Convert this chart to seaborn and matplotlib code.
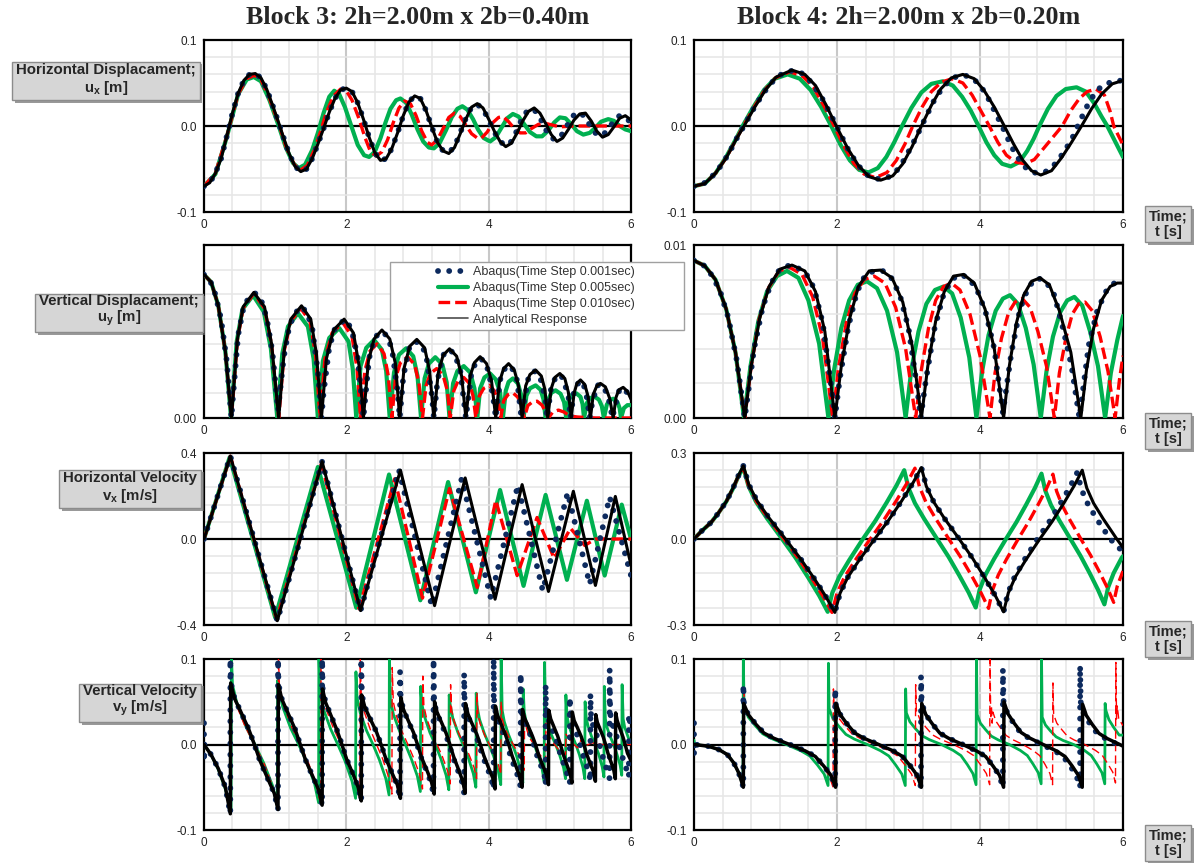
import numpy as np
import pandas as pd
import matplotlib
matplotlib.use("Agg")
import matplotlib.pyplot as plt
import matplotlib.patheffects as pe
from matplotlib.lines import Line2D
from matplotlib.legend_handler import HandlerLine2D
import seaborn as sns

# ---------------------------------------------------------------- data
# every series is a list of (time [s], value)
# Block 3 - horizontal displacement ux [m]
B3_UX_AN = [(0.00,-0.070),(0.08,-0.066),(0.16,-0.055),(0.24,-0.038),(0.32,-0.012),(0.40,0.015),(0.48,0.038),(0.56,0.053),(0.64,0.060),(0.72,0.061),(0.80,0.056),(0.88,0.043),(0.96,0.025),(1.04,0.006),(1.12,-0.014),(1.20,-0.033),(1.28,-0.047),(1.36,-0.053),(1.44,-0.050),(1.52,-0.038),(1.60,-0.021),(1.68,-0.003),(1.76,0.016),(1.84,0.032),(1.92,0.042),(2.00,0.044),(2.08,0.040),(2.16,0.027),(2.24,0.008),(2.32,-0.013),(2.40,-0.031),(2.48,-0.040),(2.56,-0.038),(2.64,-0.026),(2.72,-0.008),(2.80,0.012),(2.88,0.028),(2.96,0.035),(3.04,0.032),(3.12,0.018),(3.20,-0.001),(3.28,-0.019),(3.36,-0.029),(3.44,-0.032),(3.52,-0.025),(3.60,-0.009),(3.68,0.008),(3.76,0.022),(3.84,0.026),(3.92,0.021),(4.00,0.008),(4.08,-0.006),(4.16,-0.018),(4.24,-0.024),(4.32,-0.020),(4.40,-0.008),(4.48,0.006),(4.56,0.017),(4.64,0.021),(4.72,0.015),(4.80,0.003),(4.88,-0.010),(4.96,-0.018),(5.04,-0.014),(5.12,-0.004),(5.20,0.007),(5.28,0.014),(5.36,0.015),(5.44,0.006),(5.52,-0.006),(5.60,-0.013),(5.68,-0.010),(5.76,-0.001),(5.84,0.009),(5.92,0.012),(6.00,0.007)]
B3_UX_D1 = [(0.00,-0.070),(0.08,-0.066),(0.16,-0.055),(0.24,-0.038),(0.32,-0.012),(0.40,0.015),(0.48,0.038),(0.56,0.053),(0.64,0.060),(0.72,0.061),(0.80,0.056),(0.88,0.043),(0.96,0.025),(1.04,0.006),(1.12,-0.014),(1.20,-0.033),(1.28,-0.047),(1.36,-0.053),(1.44,-0.050),(1.52,-0.038),(1.60,-0.021),(1.68,-0.003),(1.76,0.016),(1.84,0.032),(1.92,0.042),(2.00,0.044),(2.08,0.040),(2.16,0.027),(2.24,0.008),(2.32,-0.013),(2.40,-0.031),(2.48,-0.040),(2.56,-0.038),(2.64,-0.026),(2.72,-0.008),(2.80,0.012),(2.88,0.028),(2.96,0.035),(3.04,0.032),(3.12,0.018),(3.20,-0.001),(3.28,-0.019),(3.36,-0.029),(3.44,-0.031),(3.52,-0.024),(3.60,-0.008),(3.68,0.009),(3.76,0.022),(3.84,0.025),(3.92,0.020),(4.00,0.007),(4.08,-0.007),(4.16,-0.018),(4.24,-0.023),(4.32,-0.018),(4.40,-0.005),(4.48,0.011),(4.56,0.019),(4.64,0.019),(4.72,0.010),(4.80,-0.004),(4.88,-0.014),(4.96,-0.016),(5.04,-0.009),(5.12,0.003),(5.20,0.013),(5.28,0.016),(5.36,0.010),(5.44,-0.002),(5.52,-0.010),(5.60,-0.011),(5.68,-0.004),(5.76,0.006),(5.84,0.012),(5.92,0.010),(6.00,0.004)]
B3_UX_D5 = [(0.00,-0.070),(0.16,-0.056),(0.32,-0.013),(0.48,0.037),(0.60,0.054),(0.70,0.057),(0.80,0.052),(0.92,0.030),(1.05,0.000),(1.15,-0.025),(1.25,-0.043),(1.33,-0.049),(1.42,-0.045),(1.52,-0.028),(1.60,-0.008),(1.68,0.015),(1.76,0.034),(1.83,0.041),(1.90,0.037),(1.98,0.022),(2.07,0.000),(2.16,-0.022),(2.25,-0.034),(2.32,-0.036),(2.40,-0.030),(2.48,-0.014),(2.55,0.004),(2.62,0.020),(2.70,0.030),(2.76,0.032),(2.84,0.027),(2.92,0.013),(3.00,-0.004),(3.08,-0.018),(3.16,-0.025),(3.23,-0.026),(3.31,-0.020),(3.40,-0.005),(3.48,0.010),(3.56,0.020),(3.63,0.023),(3.70,0.019),(3.78,0.008),(3.85,-0.004),(3.93,-0.014),(4.02,-0.018),(4.10,-0.013),(4.18,-0.002),(4.26,0.009),(4.34,0.014),(4.42,0.011),(4.50,0.002),(4.58,-0.007),(4.67,-0.012),(4.75,-0.012),(4.83,-0.006),(4.92,0.004),(5.00,0.010),(5.08,0.009),(5.16,0.002),(5.24,-0.006),(5.33,-0.010),(5.42,-0.008),(5.50,-0.002),(5.58,0.005),(5.68,0.008),(5.76,0.006),(5.84,0.000),(5.92,-0.004),(6.00,-0.006)]
B3_UX_D10 = [(0.00,-0.070),(0.16,-0.055),(0.32,-0.012),(0.48,0.037),(0.60,0.055),(0.71,0.059),(0.80,0.054),(0.92,0.032),(1.06,0.000),(1.16,-0.026),(1.27,-0.045),(1.36,-0.051),(1.45,-0.046),(1.55,-0.028),(1.64,-0.006),(1.72,0.016),(1.82,0.035),(1.92,0.043),(2.00,0.041),(2.08,0.030),(2.18,0.008),(2.26,-0.013),(2.34,-0.030),(2.42,-0.035),(2.50,-0.030),(2.58,-0.016),(2.66,0.004),(2.74,0.021),(2.82,0.029),(2.90,0.026),(2.98,0.012),(3.06,-0.006),(3.14,-0.019),(3.20,-0.022),(3.28,-0.016),(3.36,-0.003),(3.44,0.010),(3.52,0.015),(3.60,0.011),(3.68,0.001),(3.76,-0.009),(3.84,-0.014),(3.90,-0.014),(3.98,-0.007),(4.06,0.004),(4.14,0.010),(4.20,0.011),(4.28,0.005),(4.36,-0.003),(4.44,-0.008),(4.52,-0.008),(4.60,-0.003),(4.70,0.002),(4.80,0.003),(4.90,0.001),(5.00,-0.001),(5.20,0.000),(6.00,0.000)]

# Block 4 - horizontal displacement ux [m]
B4_UX_AN = [(0.00,-0.070),(0.15,-0.067),(0.30,-0.055),(0.45,-0.037),(0.60,-0.014),(0.70,0.000),(0.85,0.022),(1.00,0.042),(1.15,0.057),(1.37,0.065),(1.55,0.060),(1.70,0.047),(1.85,0.024),(1.99,0.000),(2.15,-0.026),(2.30,-0.046),(2.45,-0.059),(2.61,-0.063),(2.78,-0.058),(2.92,-0.044),(3.05,-0.024),(3.18,0.000),(3.32,0.024),(3.45,0.043),(3.60,0.056),(3.76,0.060),(3.92,0.055),(4.06,0.041),(4.20,0.022),(4.34,0.000),(4.47,-0.021),(4.60,-0.040),(4.72,-0.052),(4.85,-0.057),(5.00,-0.052),(5.14,-0.037),(5.28,-0.019),(5.42,0.000),(5.56,0.020),(5.70,0.037),(5.85,0.049),(6.00,0.053)]
B4_UX_D1 = [(0.00,-0.070),(0.12,-0.068),(0.24,-0.060),(0.36,-0.048),(0.48,-0.033),(0.60,-0.014),(0.72,0.003),(0.84,0.021),(0.96,0.037),(1.08,0.050),(1.20,0.059),(1.32,0.064),(1.44,0.064),(1.56,0.059),(1.68,0.046),(1.80,0.031),(1.92,0.012),(2.04,-0.008),(2.16,-0.028),(2.28,-0.044),(2.40,-0.056),(2.52,-0.061),(2.64,-0.062),(2.76,-0.058),(2.88,-0.048),(3.00,-0.030),(3.12,-0.011),(3.24,0.010),(3.36,0.030),(3.48,0.045),(3.60,0.055),(3.72,0.059),(3.84,0.058),(3.96,0.051),(4.08,0.038),(4.20,0.018),(4.32,-0.002),(4.44,-0.024),(4.56,-0.041),(4.68,-0.052),(4.80,-0.055),(4.92,-0.053),(5.04,-0.045),(5.16,-0.032),(5.28,-0.016),(5.40,0.006),(5.52,0.027),(5.64,0.042),(5.76,0.049),(5.88,0.052),(6.00,0.053)]
B4_UX_D5 = [(0.00,-0.070),(0.15,-0.067),(0.30,-0.055),(0.45,-0.036),(0.60,-0.013),(0.68,0.000),(0.83,0.022),(0.98,0.042),(1.13,0.055),(1.31,0.060),(1.48,0.055),(1.63,0.042),(1.78,0.022),(1.92,0.000),(2.05,-0.022),(2.18,-0.040),(2.31,-0.051),(2.44,-0.054),(2.57,-0.049),(2.69,-0.036),(2.80,-0.019),(2.91,0.000),(3.04,0.021),(3.18,0.039),(3.32,0.049),(3.48,0.052),(3.62,0.047),(3.75,0.034),(3.87,0.018),(3.98,0.000),(4.09,-0.019),(4.20,-0.034),(4.31,-0.044),(4.43,-0.047),(4.55,-0.042),(4.66,-0.029),(4.75,-0.015),(4.83,0.000),(4.95,0.020),(5.07,0.035),(5.20,0.043),(5.35,0.045),(5.48,0.040),(5.60,0.026),(5.70,0.011),(5.78,0.000),(5.89,-0.018),(6.00,-0.036)]
B4_UX_D10 = [(0.00,-0.070),(0.15,-0.067),(0.30,-0.055),(0.45,-0.037),(0.60,-0.014),(0.69,0.000),(0.84,0.022),(0.99,0.042),(1.14,0.056),(1.34,0.063),(1.52,0.058),(1.67,0.045),(1.82,0.023),(1.96,0.000),(2.10,-0.024),(2.24,-0.044),(2.38,-0.056),(2.54,-0.060),(2.70,-0.054),(2.83,-0.040),(2.95,-0.021),(3.06,0.000),(3.19,0.022),(3.32,0.040),(3.46,0.051),(3.61,0.055),(3.76,0.050),(3.89,0.036),(4.01,0.018),(4.13,0.000),(4.25,-0.019),(4.37,-0.034),(4.50,-0.042),(4.63,-0.044),(4.76,-0.039),(4.88,-0.027),(5.02,-0.013),(5.15,0.000),(5.27,0.018),(5.39,0.032),(5.50,0.040),(5.62,0.043),(5.74,0.036),(5.82,0.017),(5.87,0.000),(5.94,-0.012),(6.00,-0.022)]

# Block 3 - vertical displacement uy [m]
B3_UY_AN = [(0.00,0.0290),(0.10,0.0275),(0.20,0.0228),(0.30,0.0135),(0.385,0.0),(0.47,0.0160),(0.55,0.0225),(0.70,0.0254),(0.85,0.0225),(0.95,0.0150),(1.05,0.0),(1.13,0.0140),(1.22,0.0200),(1.37,0.0227),(1.50,0.0200),(1.58,0.0130),(1.65,0.0),(1.72,0.0120),(1.82,0.0178),(1.97,0.0200),(2.10,0.0172),(2.18,0.0105),(2.24,0.0),(2.31,0.0115),(2.39,0.0160),(2.50,0.0178),(2.61,0.0160),(2.69,0.0110),(2.75,0.0),(2.81,0.0100),(2.89,0.0145),(2.99,0.0159),(3.10,0.0142),(3.17,0.0095),(3.23,0.0),(3.29,0.0090),(3.36,0.0127),(3.45,0.0140),(3.55,0.0125),(3.62,0.0085),(3.68,0.0),(3.74,0.0085),(3.80,0.0112),(3.88,0.0124),(3.97,0.0110),(4.04,0.0075),(4.10,0.0),(4.15,0.0072),(4.21,0.0100),(4.28,0.0110),(4.36,0.0097),(4.42,0.0065),(4.47,0.0),(4.52,0.0065),(4.58,0.0088),(4.66,0.0097),(4.74,0.0085),(4.79,0.0058),(4.83,0.0),(4.88,0.0060),(4.93,0.0082),(5.00,0.0090),(5.07,0.0080),(5.12,0.0052),(5.16,0.0),(5.20,0.0050),(5.24,0.0070),(5.29,0.0077),(5.35,0.0068),(5.40,0.0042),(5.43,0.0),(5.47,0.0048),(5.52,0.0065),(5.57,0.0070),(5.64,0.0063),(5.70,0.0040),(5.75,0.0),(5.79,0.0042),(5.83,0.0057),(5.89,0.0062),(5.95,0.0054),(6.00,0.0038)]
B3_UY_D1 = [(0.00,0.0290),(0.08,0.0280),(0.16,0.0250),(0.24,0.0200),(0.32,0.0115),(0.385,0.0),(0.40,0.0030),(0.48,0.0168),(0.56,0.0227),(0.64,0.0245),(0.72,0.0252),(0.80,0.0240),(0.88,0.0203),(0.96,0.0135),(1.04,0.0015),(1.12,0.0122),(1.20,0.0187),(1.28,0.0211),(1.36,0.0226),(1.44,0.0215),(1.52,0.0183),(1.60,0.0093),(1.65,0.0),(1.68,0.0051),(1.76,0.0143),(1.84,0.0181),(1.92,0.0193),(2.00,0.0199),(2.08,0.0176),(2.16,0.0122),(2.24,0.0),(2.32,0.0121),(2.40,0.0162),(2.48,0.0175),(2.56,0.0168),(2.64,0.0141),(2.72,0.0055),(2.75,0.0),(2.80,0.0083),(2.88,0.0140),(2.96,0.0155),(3.04,0.0151),(3.12,0.0129),(3.20,0.0048),(3.23,0.0),(3.28,0.0075),(3.36,0.0127),(3.44,0.0139),(3.52,0.0130),(3.60,0.0097),(3.68,0.0),(3.76,0.0094),(3.84,0.0118),(3.92,0.0118),(4.00,0.0095),(4.08,0.0025),(4.10,0.0),(4.16,0.0077),(4.24,0.0104),(4.32,0.0104),(4.40,0.0076),(4.46,0.0),(4.48,0.0020),(4.56,0.0082),(4.64,0.0095),(4.72,0.0085),(4.80,0.0035),(4.82,0.0),(4.88,0.0063),(4.96,0.0088),(5.04,0.0082),(5.12,0.0045),(5.15,0.0),(5.20,0.0055),(5.28,0.0076),(5.36,0.0060),(5.42,0.0),(5.44,0.0020),(5.52,0.0066),(5.60,0.0067),(5.68,0.0044),(5.74,0.0),(5.76,0.0015),(5.84,0.0059),(5.92,0.0058),(6.00,0.0035)]
B3_UY_D5 = [(0.00,0.0290),(0.10,0.0275),(0.20,0.0228),(0.30,0.0135),(0.38,0.0),(0.46,0.0155),(0.54,0.0220),(0.69,0.0248),(0.84,0.0215),(0.94,0.0140),(1.03,0.0),(1.10,0.0130),(1.18,0.0185),(1.32,0.0212),(1.46,0.0185),(1.54,0.0120),(1.60,0.0),(1.67,0.0115),(1.76,0.0162),(1.90,0.0182),(2.03,0.0155),(2.09,0.0100),(2.14,0.0),(2.20,0.0105),(2.28,0.0142),(2.39,0.0158),(2.50,0.0138),(2.56,0.0095),(2.61,0.0),(2.67,0.0092),(2.74,0.0128),(2.84,0.0141),(2.94,0.0125),(3.00,0.0085),(3.05,0.0),(3.10,0.0080),(3.16,0.0110),(3.25,0.0123),(3.35,0.0108),(3.41,0.0072),(3.45,0.0),(3.50,0.0070),(3.56,0.0095),(3.65,0.0105),(3.74,0.0092),(3.80,0.0060),(3.84,0.0),(3.88,0.0060),(3.94,0.0082),(4.02,0.0090),(4.10,0.0078),(4.16,0.0052),(4.20,0.0),(4.24,0.0055),(4.28,0.0073),(4.34,0.0080),(4.41,0.0070),(4.46,0.0045),(4.49,0.0),(4.53,0.0045),(4.58,0.0060),(4.66,0.0066),(4.73,0.0057),(4.77,0.0038),(4.80,0.0),(4.84,0.0038),(4.88,0.0051),(4.94,0.0056),(5.01,0.0049),(5.06,0.0032),(5.09,0.0),(5.12,0.0034),(5.16,0.0046),(5.23,0.0050),(5.29,0.0043),(5.32,0.0028),(5.34,0.0),(5.38,0.0030),(5.42,0.0040),(5.49,0.0043),(5.55,0.0037),(5.59,0.0024),(5.62,0.0),(5.66,0.0027),(5.70,0.0036),(5.75,0.0039),(5.81,0.0032),(5.84,0.0020),(5.86,0.0),(5.90,0.0020),(5.95,0.0026),(6.00,0.0026)]
B3_UY_D10 = [(0.00,0.0290),(0.10,0.0275),(0.20,0.0228),(0.30,0.0135),(0.385,0.0),(0.47,0.0158),(0.55,0.0222),(0.70,0.0252),(0.85,0.0222),(0.95,0.0148),(1.05,0.0),(1.13,0.0138),(1.22,0.0196),(1.36,0.0222),(1.49,0.0195),(1.57,0.0125),(1.63,0.0),(1.70,0.0120),(1.80,0.0172),(1.95,0.0193),(2.08,0.0165),(2.15,0.0100),(2.20,0.0),(2.26,0.0095),(2.33,0.0135),(2.43,0.0150),(2.53,0.0130),(2.59,0.0085),(2.64,0.0),(2.69,0.0080),(2.76,0.0112),(2.86,0.0124),(2.96,0.0108),(3.02,0.0070),(3.07,0.0),(3.12,0.0065),(3.18,0.0090),(3.27,0.0100),(3.36,0.0086),(3.42,0.0055),(3.46,0.0),(3.51,0.0055),(3.57,0.0075),(3.65,0.0082),(3.73,0.0070),(3.78,0.0045),(3.82,0.0),(3.87,0.0045),(3.93,0.0060),(4.01,0.0066),(4.08,0.0055),(4.13,0.0036),(4.17,0.0),(4.21,0.0035),(4.27,0.0047),(4.34,0.0051),(4.41,0.0042),(4.46,0.0026),(4.50,0.0),(4.55,0.0025),(4.61,0.0032),(4.68,0.0034),(4.75,0.0026),(4.80,0.0012),(4.84,0.0),(4.90,0.0012),(4.98,0.0016),(5.06,0.0012),(5.14,0.0004),(5.25,0.0002),(5.50,0.0),(6.00,0.0)]

# Block 4 - vertical displacement uy [m]
B4_UY_AN = [(0.00,0.0091),(0.15,0.0088),(0.30,0.0080),(0.45,0.0063),(0.58,0.0038),(0.71,0.0),(0.80,0.0030),(0.92,0.0058),(1.05,0.0076),(1.20,0.0086),(1.37,0.00884),(1.55,0.0085),(1.70,0.0073),(1.83,0.0050),(1.97,0.0),(2.06,0.0030),(2.18,0.0058),(2.30,0.0076),(2.45,0.0085),(2.61,0.00855),(2.77,0.0081),(2.92,0.0067),(3.05,0.0042),(3.18,0.0),(3.27,0.0030),(3.38,0.0056),(3.50,0.0073),(3.63,0.0082),(3.77,0.0083),(3.92,0.0078),(4.07,0.0063),(4.20,0.0040),(4.33,0.0),(4.41,0.0030),(4.51,0.0055),(4.61,0.0071),(4.72,0.0079),(4.84,0.0081),(4.97,0.0077),(5.11,0.0062),(5.27,0.0038),(5.41,0.0),(5.49,0.0028),(5.59,0.0052),(5.70,0.0068),(5.82,0.0076),(5.92,0.0078),(6.00,0.0078)]
B4_UY_D1 = [(0.00,0.0091),(0.12,0.0089),(0.24,0.0083),(0.36,0.0074),(0.48,0.0058),(0.60,0.0033),(0.71,0.0),(0.84,0.0040),(0.96,0.0064),(1.08,0.0078),(1.20,0.0086),(1.32,0.0088),(1.44,0.0087),(1.56,0.0084),(1.68,0.0075),(1.80,0.0055),(1.92,0.0018),(1.97,0.0),(2.04,0.0023),(2.16,0.0053),(2.28,0.0073),(2.40,0.0083),(2.52,0.0085),(2.64,0.0085),(2.76,0.0081),(2.88,0.0071),(3.00,0.0052),(3.12,0.0018),(3.17,0.0),(3.24,0.0021),(3.36,0.0051),(3.48,0.0070),(3.60,0.0080),(3.72,0.0083),(3.84,0.0081),(3.96,0.0074),(4.08,0.0061),(4.20,0.0040),(4.32,0.0003),(4.44,0.0038),(4.56,0.0063),(4.68,0.0076),(4.80,0.0081),(4.92,0.0079),(5.04,0.0071),(5.16,0.0052),(5.28,0.0030),(5.39,0.0),(5.52,0.0042),(5.64,0.0062),(5.76,0.0073),(5.88,0.0078),(6.00,0.0078)]
B4_UY_D5 = [(0.00,0.0091),(0.15,0.0088),(0.30,0.0080),(0.45,0.0063),(0.58,0.0038),(0.70,0.0),(0.79,0.0030),(0.90,0.0056),(1.02,0.0073),(1.16,0.0082),(1.30,0.0085),(1.46,0.0081),(1.60,0.0068),(1.75,0.0043),(1.88,0.0),(1.96,0.0028),(2.06,0.0052),(2.17,0.0068),(2.29,0.0077),(2.42,0.0079),(2.56,0.0075),(2.70,0.0062),(2.84,0.0038),(2.96,0.0),(3.04,0.0028),(3.14,0.0050),(3.25,0.0066),(3.37,0.0074),(3.49,0.0076),(3.61,0.0072),(3.73,0.0058),(3.85,0.0035),(3.95,0.0),(4.03,0.0027),(4.12,0.0048),(4.22,0.0062),(4.32,0.0069),(4.42,0.0071),(4.53,0.0066),(4.64,0.0052),(4.75,0.0031),(4.85,0.0),(4.93,0.0027),(5.02,0.0047),(5.12,0.0061),(5.22,0.0068),(5.32,0.0070),(5.43,0.0065),(5.54,0.0050),(5.65,0.0030),(5.75,0.0),(5.83,0.0026),(5.92,0.0045),(6.00,0.0059)]
B4_UY_D10 = [(0.00,0.0091),(0.15,0.0088),(0.30,0.0080),(0.45,0.0063),(0.58,0.0038),(0.71,0.0),(0.80,0.0030),(0.91,0.0057),(1.04,0.0075),(1.19,0.0085),(1.34,0.0087),(1.51,0.0083),(1.66,0.0070),(1.80,0.0046),(1.94,0.0),(2.02,0.0029),(2.13,0.0055),(2.25,0.0072),(2.38,0.0080),(2.52,0.0082),(2.67,0.0078),(2.82,0.0064),(2.96,0.0040),(3.10,0.0),(3.18,0.0028),(3.28,0.0052),(3.38,0.0068),(3.49,0.0076),(3.60,0.0078),(3.72,0.0074),(3.86,0.0060),(4.00,0.0036),(4.14,0.0),(4.21,0.0026),(4.30,0.0046),(4.40,0.0061),(4.49,0.0067),(4.59,0.0069),(4.70,0.0064),(4.81,0.0050),(4.93,0.0030),(5.04,0.0),(5.11,0.0026),(5.20,0.0046),(5.29,0.0060),(5.38,0.0066),(5.47,0.0067),(5.57,0.0062),(5.68,0.0047),(5.79,0.0027),(5.89,0.0),(5.95,0.0022),(6.00,0.0036)]

# Block 3 - horizontal velocity vx [m/s]
B3_VX_AN = [(0.00,0.0),(0.37,0.386),(1.03,-0.380),(1.66,0.360),(2.20,-0.333),(2.76,0.320),(3.24,-0.310),(3.67,0.284),(4.09,-0.280),(4.47,0.253),(4.84,-0.244),(5.19,0.222),(5.50,-0.216),(5.78,0.198),(6.00,-0.122)]
B3_VX_D1 = [(0.00,0.0),(0.37,0.386),(1.03,-0.380),(1.66,0.360),(2.20,-0.333),(2.74,0.320),(3.20,-0.310),(3.62,0.280),(4.03,-0.275),(4.41,0.250),(4.76,-0.240),(5.11,0.215),(5.42,-0.210),(5.70,0.195),(6.00,-0.170)]
B3_VX_D5 = [(0.00,0.0),(0.36,0.380),(1.00,-0.365),(1.60,0.335),(2.14,-0.320),(2.60,0.300),(3.04,-0.285),(3.43,0.265),(3.82,-0.248),(4.16,0.228),(4.49,-0.218),(4.80,0.205),(5.10,-0.190),(5.38,0.178),(5.63,-0.170),(5.87,0.160),(6.00,0.000)]
B3_VX_D10 = [(0.00,0.0),(0.37,0.385),(1.02,-0.375),(1.65,0.350),(2.18,-0.325),(2.68,0.280),(3.07,-0.275),(3.45,0.235),(3.84,-0.225),(4.10,0.180),(4.40,-0.170),(4.68,0.100),(4.92,-0.090),(5.15,0.050),(5.35,-0.030),(5.50,0.000),(6.00,0.000)]

# Block 4 - horizontal velocity vx [m/s]
B4_VX_AN = [(0.00,0.0),(0.10,0.026),(0.24,0.058),(0.34,0.090),(0.45,0.130),(0.55,0.180),(0.62,0.220),(0.69,0.255),(0.767,0.189),(0.882,0.133),(1.048,0.074),(1.279,0.0),(1.484,-0.067),(1.676,-0.136),(1.842,-0.200),(1.97,-0.256),(2.043,-0.189),(2.152,-0.133),(2.309,-0.074),(2.527,0.0),(2.72,0.065),(2.902,0.132),(3.059,0.194),(3.18,0.249),(3.249,0.184),(3.353,0.129),(3.502,0.072),(3.709,0.0),(3.893,-0.066),(4.066,-0.135),(4.215,-0.198),(4.33,-0.254),(4.396,-0.188),(4.495,-0.132),(4.638,-0.074),(4.836,0.0),(5.012,0.062),(5.177,0.127),(5.32,0.187),(5.43,0.240),(5.493,0.178),(5.588,0.125),(5.724,0.070),(5.913,0.0),(6.00,-0.030)]
B4_VX_D1 = [(0.00,0.0),(0.10,0.026),(0.24,0.058),(0.34,0.090),(0.45,0.130),(0.55,0.180),(0.62,0.220),(0.69,0.255),(0.767,0.189),(0.882,0.133),(1.048,0.074),(1.279,0.0),(1.484,-0.067),(1.676,-0.136),(1.842,-0.200),(1.97,-0.256),(2.043,-0.189),(2.152,-0.133),(2.309,-0.074),(2.527,0.0),(2.72,0.065),(2.902,0.132),(3.059,0.194),(3.18,0.249),(3.249,0.184),(3.353,0.129),(3.502,0.072),(3.709,0.0),(3.893,-0.066),(4.066,-0.135),(4.215,-0.198),(4.33,-0.254),(4.392,-0.188),(4.485,-0.132),(4.618,-0.074),(4.804,0.0),(4.969,0.060),(5.123,0.123),(5.257,0.181),(5.36,0.232),(5.42,0.172),(5.51,0.121),(5.64,0.067),(5.82,0.0),(5.98,-0.040),(6.00,-0.045)]
B4_VX_D5 = [(0.00,0.0),(0.10,0.026),(0.24,0.058),(0.34,0.090),(0.45,0.130),(0.55,0.178),(0.62,0.218),(0.69,0.250),(0.761,0.185),(0.867,0.130),(1.020,0.0725),(1.233,0.0),(1.422,-0.066),(1.599,-0.135),(1.752,-0.198),(1.87,-0.254),(1.934,-0.188),(2.031,-0.132),(2.170,-0.074),(2.362,0.0),(2.533,0.062),(2.694,0.127),(2.833,0.187),(2.94,0.240),(3.00,0.178),(3.09,0.125),(3.22,0.070),(3.40,0.0),(3.56,-0.062),(3.71,-0.127),(3.84,-0.186),(3.94,-0.239),(3.995,-0.177),(4.078,-0.124),(4.198,-0.069),(4.363,0.0),(4.51,0.059),(4.648,0.121),(4.768,0.178),(4.86,0.228),(4.913,0.169),(4.992,0.119),(5.106,0.066),(5.265,0.0),(5.406,-0.059),(5.538,-0.121),(5.652,-0.178),(5.74,-0.228),(5.792,-0.169),(5.869,-0.119),(5.981,-0.066),(6.00,-0.060)]
B4_VX_D10 = [(0.00,0.0),(0.10,0.026),(0.24,0.058),(0.34,0.090),(0.45,0.130),(0.55,0.179),(0.62,0.219),(0.69,0.250),(0.764,0.185),(0.876,0.130),(1.037,0.0725),(1.260,0.0),(1.459,-0.067),(1.645,-0.136),(1.806,-0.200),(1.93,-0.256),(2.00,-0.189),(2.104,-0.133),(2.255,-0.074),(2.464,0.0),(2.649,0.064),(2.823,0.131),(2.974,0.193),(3.09,0.247),(3.152,0.183),(3.245,0.128),(3.378,0.072),(3.564,0.0),(3.729,-0.063),(3.883,-0.128),(4.017,-0.189),(4.12,-0.242),(4.174,-0.179),(4.255,-0.126),(4.372,-0.070),(4.534,0.0),(4.678,0.059),(4.813,0.120),(4.93,0.176),(5.02,0.226),(5.071,0.167),(5.148,0.118),(5.258,0.066),(5.411,0.0),(5.547,-0.057),(5.675,-0.117),(5.785,-0.172),(5.87,-0.221),(5.92,-0.164),(5.995,-0.115),(6.00,-0.112)]

# Block 3 - vertical velocity vy [m/s]
B3_VY_AN = [(0.00,0.0),(0.10,-0.012),(0.20,-0.028),(0.30,-0.050),(0.37,-0.081),(0.375,0.072),(0.428,0.054),(0.508,0.040),(0.628,0.018),(0.708,0.0),(0.787,-0.019),(0.907,-0.042),(0.987,-0.057),(1.04,-0.076),(1.045,0.070),(1.094,0.053),(1.168,0.039),(1.279,0.018),(1.353,0.0),(1.426,-0.018),(1.537,-0.039),(1.611,-0.053),(1.66,-0.071),(1.665,0.065),(1.709,0.049),(1.774,0.036),(1.872,0.016),(1.938,0.0),(2.003,-0.017),(2.101,-0.036),(2.166,-0.050),(2.21,-0.066),(2.215,0.058),(2.259,0.044),(2.324,0.032),(2.422,0.015),(2.488,0.0),(2.553,-0.016),(2.651,-0.035),(2.716,-0.047),(2.76,-0.063),(2.765,0.055),(2.803,0.041),(2.859,0.030),(2.944,0.014),(3.0,0.0),(3.056,-0.015),(3.141,-0.032),(3.197,-0.044),(3.235,-0.058),(3.24,0.050),(3.274,0.038),(3.326,0.028),(3.403,0.013),(3.455,0.0),(3.507,-0.014),(3.584,-0.031),(3.636,-0.043),(3.67,-0.057),(3.675,0.048),(3.708,0.036),(3.758,0.026),(3.833,0.012),(3.883,0.0),(3.932,-0.013),(4.007,-0.029),(4.057,-0.039),(4.09,-0.052),(4.095,0.045),(4.125,0.034),(4.170,0.025),(4.238,0.011),(4.283,0.0),(4.328,-0.013),(4.395,-0.028),(4.440,-0.038),(4.47,-0.050),(4.475,0.041),(4.504,0.031),(4.548,0.023),(4.614,0.010),(4.658,0.0),(4.701,-0.012),(4.767,-0.026),(4.811,-0.035),(4.84,-0.047),(4.845,0.040),(4.871,0.030),(4.910,0.022),(4.969,0.010),(5.008,0.0),(5.046,-0.011),(5.105,-0.025),(5.144,-0.034),(5.17,-0.045),(5.175,0.038),(5.201,0.028),(5.24,0.021),(5.299,0.0095),(5.338,0.0),(5.376,-0.011),(5.435,-0.024),(5.474,-0.032),(5.50,-0.043),(5.505,0.035),(5.527,0.026),(5.56,0.019),(5.609,0.009),(5.643,0.0),(5.675,-0.010),(5.725,-0.022),(5.758,-0.030),(5.78,-0.040),(5.785,0.037),(5.806,0.028),(5.838,0.020),(5.886,0.009),(5.918,0.0),(5.95,-0.010),(6.00,-0.019)]
B3_VY_D1 = [(0.0,0.025),(0.0,-0.020),(0.005,0.0),(0.10,-0.012),(0.20,-0.028),(0.30,-0.050),(0.37,-0.081),(0.37,0.10),(0.378,0.072),(0.428,0.054),(0.508,0.040),(0.628,0.018),(0.708,0.0),(0.787,-0.019),(0.907,-0.042),(0.987,-0.057),(1.04,-0.076),(1.04,0.10),(1.048,0.070),(1.094,0.053),(1.168,0.039),(1.279,0.018),(1.353,0.0),(1.426,-0.018),(1.537,-0.039),(1.611,-0.053),(1.66,-0.071),(1.66,0.10),(1.668,0.065),(1.709,0.049),(1.774,0.036),(1.872,0.016),(1.938,0.0),(2.003,-0.017),(2.101,-0.036),(2.166,-0.050),(2.21,-0.066),(2.21,0.10),(2.218,0.058),(2.259,0.044),(2.324,0.032),(2.422,0.015),(2.488,0.0),(2.553,-0.016),(2.651,-0.035),(2.716,-0.047),(2.755,-0.063),(2.755,0.085),(2.763,0.055),(2.80,0.041),(2.856,0.030),(2.94,0.014),(2.995,0.0),(3.05,-0.015),(3.133,-0.032),(3.188,-0.044),(3.225,-0.058),(3.225,0.10),(3.233,0.050),(3.266,0.038),(3.317,0.028),(3.393,0.013),(3.444,0.0),(3.495,-0.014),(3.571,-0.031),(3.622,-0.043),(3.655,-0.057),(3.655,0.083),(3.663,0.048),(3.695,0.036),(3.744,0.026),(3.817,0.012),(3.865,0.0),(3.914,-0.013),(3.987,-0.029),(4.036,-0.039),(4.07,-0.052),(4.07,0.10),(4.078,0.045),(4.107,0.034),(4.151,0.025),(4.217,0.011),(4.261,0.0),(4.305,-0.013),(4.371,-0.028),(4.415,-0.038),(4.45,-0.050),(4.45,0.083),(4.458,0.041),(4.486,0.031),(4.528,0.023),(4.592,0.010),(4.634,0.0),(4.676,-0.012),(4.74,-0.026),(4.782,-0.035),(4.80,-0.047),(4.80,0.070),(4.808,0.040),(4.834,0.030),(4.872,0.022),(4.93,0.010),(4.968,0.0),(5.006,-0.011),(5.064,-0.025),(5.102,-0.034),(5.14,-0.045),(5.14,0.055),(5.148,0.038),(5.163,0.028),(5.198,0.021),(5.25,0.0095),(5.285,0.0),(5.32,-0.011),(5.372,-0.024),(5.407,-0.032),(5.43,-0.043),(5.43,0.059),(5.438,0.035),(5.452,0.026),(5.482,0.019),(5.527,0.009),(5.557,0.0),(5.587,-0.010),(5.632,-0.022),(5.662,-0.030),(5.70,-0.040),(5.70,0.088),(5.708,0.037),(5.725,0.028),(5.755,0.020),(5.80,0.009),(5.83,0.0),(5.86,-0.010),(5.91,-0.022),(5.94,-0.030),(5.97,-0.038),(5.97,0.035),(5.978,0.030),(6.00,0.020)]
B3_VY_D5 = [(0.00,0.0),(0.10,-0.012),(0.20,-0.029),(0.30,-0.052),(0.38,-0.078),(0.385,0.105),(0.40,0.070),(0.463,0.048),(0.589,0.021),(0.715,0.0),(0.841,-0.022),(0.967,-0.049),(1.03,-0.072),(1.035,0.075),(1.05,0.064),(1.106,0.044),(1.218,0.019),(1.33,0.0),(1.442,-0.020),(1.554,-0.046),(1.61,-0.068),(1.615,0.105),(1.63,0.060),(1.68,0.041),(1.78,0.018),(1.88,0.0),(1.98,-0.019),(2.08,-0.043),(2.13,-0.063),(2.135,0.085),(2.15,0.055),(2.195,0.037),(2.285,0.016),(2.375,0.0),(2.465,-0.018),(2.555,-0.040),(2.60,-0.059),(2.605,0.105),(2.62,0.052),(2.662,0.035),(2.746,0.016),(2.83,0.0),(2.914,-0.017),(2.998,-0.037),(3.04,-0.055),(3.045,0.068),(3.06,0.048),(3.098,0.033),(3.174,0.014),(3.25,0.0),(3.326,-0.016),(3.402,-0.036),(3.44,-0.053),(3.445,0.058),(3.46,0.046),(3.496,0.031),(3.568,0.014),(3.64,0.0),(3.712,-0.015),(3.784,-0.034),(3.82,-0.050),(3.825,0.060),(3.84,0.043),(3.873,0.029),(3.939,0.013),(4.005,0.0),(4.071,-0.014),(4.137,-0.032),(4.17,-0.047),(4.175,0.105),(4.19,0.040),(4.219,0.027),(4.277,0.012),(4.335,0.0),(4.393,-0.0135),(4.451,-0.031),(4.48,-0.045),(4.485,0.065),(4.50,0.038),(4.528,0.026),(4.584,0.011),(4.64,0.0),(4.696,-0.013),(4.752,-0.029),(4.78,-0.043),(4.785,0.096),(4.80,0.036),(4.828,0.024),(4.884,0.011),(4.94,0.0),(4.996,-0.012),(5.052,-0.027),(5.08,-0.040),(5.085,0.058),(5.10,0.034),(5.125,0.023),(5.175,0.010),(5.225,0.0),(5.275,-0.012),(5.325,-0.027),(5.35,-0.040),(5.355,0.050),(5.37,0.032),(5.395,0.022),(5.445,0.0096),(5.495,0.0),(5.545,-0.011),(5.595,-0.026),(5.62,-0.038),(5.625,0.068),(5.64,0.030),(5.663,0.020),(5.709,0.009),(5.755,0.0),(5.801,-0.011),(5.847,-0.024),(5.87,-0.036),(5.875,0.070),(5.89,0.030),(5.912,0.020),(5.958,0.009),(6.00,0.001)]
B3_VY_D10 = [(0.00,0.0),(0.10,-0.012),(0.20,-0.028),(0.30,-0.050),(0.375,-0.080),(0.38,0.070),(0.446,0.048),(0.578,0.021),(0.71,0.0),(0.842,-0.022),(0.974,-0.051),(1.04,-0.075),(1.045,0.105),(1.06,0.068),(1.118,0.046),(1.234,0.020),(1.35,0.0),(1.466,-0.021),(1.582,-0.048),(1.64,-0.070),(1.645,0.105),(1.66,0.062),(1.713,0.042),(1.819,0.019),(1.925,0.0),(2.031,-0.020),(2.137,-0.044),(2.19,-0.065),(2.195,0.105),(2.21,0.056),(2.253,0.038),(2.339,0.017),(2.425,0.0),(2.511,-0.017),(2.597,-0.039),(2.64,-0.058),(2.645,0.090),(2.66,0.050),(2.701,0.034),(2.783,0.015),(2.865,0.0),(2.947,-0.016),(3.029,-0.035),(3.07,-0.052),(3.075,0.080),(3.09,0.045),(3.127,0.031),(3.201,0.0135),(3.275,0.0),(3.349,-0.014),(3.423,-0.031),(3.46,-0.046),(3.465,0.070),(3.48,0.040),(3.515,0.027),(3.585,0.012),(3.655,0.0),(3.725,-0.012),(3.795,-0.027),(3.83,-0.040),(3.835,0.060),(3.85,0.035),(3.882,0.024),(3.946,0.0105),(4.01,0.0),(4.074,-0.011),(4.138,-0.024),(4.17,-0.035),(4.175,0.050),(4.19,0.030),(4.221,0.020),(4.283,0.009),(4.345,0.0),(4.407,-0.009),(4.469,-0.020),(4.50,-0.030),(4.505,0.035),(4.52,0.022),(4.57,0.008),(4.64,0.0),(4.72,-0.012),(4.80,-0.020),(4.805,0.025),(4.82,0.015),(4.90,0.003),(5.00,-0.008),(5.08,-0.012),(5.085,0.012),(5.15,0.004),(5.25,-0.004),(5.30,0.006),(5.35,-0.002),(5.45,0.002),(5.60,0.0),(6.00,0.0)]

# Block 4 - vertical velocity vy [m/s]
B4_VY_AN = [(0.00,0.0),(0.20,-0.002),(0.35,-0.006),(0.47,-0.012),(0.56,-0.022),(0.63,-0.034),(0.69,-0.050),(0.695,0.048),(0.759,0.035),(0.862,0.024),(0.978,0.0134),(1.119,0.0072),(1.338,0.0),(1.556,-0.0075),(1.697,-0.014),(1.813,-0.025),(1.916,-0.036),(1.98,-0.050),(1.985,0.048),(2.045,0.035),(2.140,0.024),(2.248,0.0134),(2.379,0.0072),(2.583,0.0),(2.786,-0.0075),(2.917,-0.014),(3.025,-0.025),(3.120,-0.036),(3.18,-0.050),(3.185,0.048),(3.242,0.035),(3.334,0.024),(3.437,0.0134),(3.563,0.0072),(3.758,0.0),(3.952,-0.0075),(4.078,-0.014),(4.181,-0.025),(4.273,-0.036),(4.33,-0.050),(4.335,0.050),(4.390,0.036),(4.477,0.025),(4.576,0.014),(4.696,0.0075),(4.883,0.0),(5.069,-0.0075),(5.189,-0.014),(5.288,-0.025),(5.375,-0.036),(5.43,-0.050),(5.435,0.047),(5.487,0.034),(5.570,0.0235),(5.664,0.013),(5.778,0.007),(5.955,0.0),(6.00,-0.002)]
B4_VY_D1 = [(0.0,0.025),(0.0,-0.012),(0.005,0.0),(0.20,-0.002),(0.35,-0.006),(0.47,-0.012),(0.56,-0.022),(0.63,-0.034),(0.69,-0.050),(0.69,0.070),(0.70,0.045),(0.759,0.035),(0.862,0.024),(0.978,0.0134),(1.119,0.0072),(1.338,0.0),(1.556,-0.0075),(1.697,-0.014),(1.813,-0.025),(1.916,-0.036),(1.975,-0.050),(1.975,0.065),(1.985,0.046),(2.045,0.035),(2.140,0.024),(2.248,0.0134),(2.379,0.0072),(2.583,0.0),(2.786,-0.0075),(2.917,-0.014),(3.025,-0.025),(3.120,-0.036),(3.175,-0.050),(3.175,0.080),(3.185,0.048),(3.242,0.035),(3.334,0.024),(3.437,0.0134),(3.563,0.0072),(3.758,0.0),(3.952,-0.0075),(4.078,-0.014),(4.181,-0.025),(4.27,-0.036),(4.32,-0.050),(4.32,0.088),(4.33,0.050),(4.385,0.036),(4.47,0.025),(4.566,0.014),(4.683,0.0075),(4.865,0.0),(5.047,-0.0075),(5.164,-0.014),(5.26,-0.025),(5.346,-0.036),(5.40,-0.050),(5.40,0.092),(5.41,0.047),(5.46,0.034),(5.545,0.0235),(5.64,0.013),(5.755,0.007),(5.93,0.0),(6.00,-0.003)]
B4_VY_D5 = [(0.0,0.005),(0.01,0.0),(0.20,-0.002),(0.35,-0.006),(0.47,-0.012),(0.56,-0.022),(0.63,-0.034),(0.685,-0.048),(0.69,0.105),(0.70,0.045),(0.759,0.032),(0.853,0.0225),(0.96,0.0126),(1.089,0.0068),(1.29,0.0),(1.491,-0.0072),(1.62,-0.0134),(1.727,-0.024),(1.821,-0.0346),(1.875,-0.048),(1.88,0.095),(1.89,0.042),(1.944,0.030),(2.029,0.021),(2.125,0.0118),(2.243,0.0063),(2.425,0.0),(2.607,-0.0072),(2.725,-0.0134),(2.821,-0.024),(2.907,-0.0346),(2.955,-0.048),(2.96,0.065),(2.97,0.037),(3.019,0.0266),(3.097,0.0185),(3.186,0.0104),(3.293,0.0056),(3.46,0.0),(3.627,-0.007),(3.734,-0.013),(3.823,-0.0235),(3.901,-0.034),(3.945,-0.047),(3.95,0.105),(3.96,0.035),(4.005,0.025),(4.077,0.0175),(4.158,0.0098),(4.257,0.0053),(4.41,0.0),(4.563,-0.0069),(4.662,-0.0129),(4.743,-0.023),(4.815,-0.033),(4.855,-0.046),(4.86,0.105),(4.87,0.032),(4.914,0.023),(4.984,0.016),(5.064,0.009),(5.16,0.0048),(5.31,0.0),(5.46,-0.0069),(5.556,-0.0129),(5.636,-0.023),(5.706,-0.033),(5.745,-0.046),(5.75,0.048),(5.76,0.040),(5.803,0.029),(5.87,0.020),(5.947,0.011),(6.00,0.011)]
B4_VY_D10 = [(0.00,0.0),(0.20,-0.002),(0.35,-0.006),(0.47,-0.012),(0.56,-0.022),(0.63,-0.034),(0.695,-0.050),(0.70,0.062),(0.71,0.045),(0.772,0.032),(0.871,0.0225),(0.983,0.0126),(1.119,0.0068),(1.33,0.0),(1.541,-0.0075),(1.677,-0.014),(1.789,-0.025),(1.888,-0.036),(1.945,-0.050),(1.95,0.065),(1.96,0.044),(2.017,0.0317),(2.108,0.022),(2.211,0.0123),(2.336,0.0066),(2.53,0.0),(2.724,-0.0072),(2.849,-0.0134),(2.952,-0.024),(3.043,-0.0346),(3.095,-0.048),(3.10,0.070),(3.11,0.040),(3.162,0.0288),(3.244,0.020),(3.337,0.0112),(3.45,0.006),(3.625,0.0),(3.80,-0.007),(3.913,-0.013),(4.006,-0.0235),(4.089,-0.034),(4.135,-0.047),(4.14,0.105),(4.15,0.030),(4.16,0.045),(4.17,0.025),(4.18,0.038),(4.222,0.0274),(4.289,0.019),(4.365,0.0106),(4.457,0.0057),(4.60,0.0),(4.743,-0.007),(4.835,-0.013),(4.911,-0.0235),(4.978,-0.034),(5.015,-0.047),(5.02,0.072),(5.03,0.035),(5.074,0.025),(5.143,0.0175),(5.221,0.0098),(5.317,0.0053),(5.465,0.0),(5.613,-0.0068),(5.709,-0.0126),(5.787,-0.0225),(5.857,-0.0324),(5.895,-0.045),(5.90,0.096),(5.91,0.030),(5.92,0.045),(5.94,0.030),(6.00,0.022)]

BLOCK_TITLES = ["Block 3: 2h=2.00m x 2b=0.40m", "Block 4: 2h=2.00m x 2b=0.20m"]
ROW_LABELS = ["Horizontal Displacament;\nu$_{\\mathbf{x}}$ [m]",
              "Vertical Displacament;\nu$_{\\mathbf{y}}$ [m]",
              "Horizontal Velocity\nv$_{\\mathbf{x}}$ [m/s]",
              "Vertical Velocity\nv$_{\\mathbf{y}}$ [m/s]"]
LEGEND_LABELS = ["Abaqus(Time Step 0.001sec)", "Abaqus(Time Step 0.005sec)",
                 "Abaqus(Time Step 0.010sec)", "Analytical Response"]

# ---------------------------------------------------------------- style
sns.set_style("white")
plt.rcParams["font.family"] = ["Liberation Sans", "DejaVu Sans"]
plt.rcParams["mathtext.fontset"] = "custom"
plt.rcParams["mathtext.rm"] = "Liberation Sans"
plt.rcParams["mathtext.bf"] = "Liberation Sans:bold"

NAVY = "#0d2a5e"
GREEN = "#00b050"
RED = "#ff0000"
DOTS = (0, (0.01, 1.9))

W, H = 1197, 863
fig = plt.figure(figsize=(W / 100, H / 100), dpi=100)
fig.patch.set_facecolor("white")

col_x = [(204, 631), (694, 1123)]
row_y = [(40, 212), (245, 418), (453, 625), (659, 830)]


def px_axes(x0, x1, y0, y1):
    return fig.add_axes([x0 / W, 1 - y1 / H, (x1 - x0) / W, (y1 - y0) / H])


def curve(ax, pts, color, lw, ls, z, cap="butt"):
    df = pd.DataFrame(pts, columns=["t", "v"])
    sns.lineplot(data=df, x="t", y="v", ax=ax, color=color, linewidth=lw,
                 linestyle=ls, estimator=None, sort=False, zorder=z,
                 dash_capstyle=cap, legend=False)


def setup(ax, ylim, yticks, ylabels, ystep, zero_line=True):
    ax.set_xlim(0, 6)
    ax.set_ylim(*ylim)
    ax.set_xticks([0, 2, 4, 6])
    ax.set_xticklabels(["0", "2", "4", "6"])
    ax.set_xticks(np.arange(0.4, 6.0, 0.4), minor=True)
    ax.set_yticks(yticks)
    ax.set_yticklabels(ylabels)
    ax.set_yticks(np.arange(ylim[0], ylim[1] + 1e-9, ystep), minor=True)
    ax.tick_params(which="both", length=0, labelsize=8.5, pad=5, colors="#222222")
    ax.grid(False)
    ax.grid(which="minor", color="#e6e6e6", lw=1.1, zorder=0)
    ax.xaxis.grid(which="major", color="#c8c8c8", lw=1.5, zorder=0)
    ax.set_xlabel("")
    ax.set_ylabel("")
    for s in ax.spines.values():
        s.set_color("black")
        s.set_linewidth(1.6)
    if zero_line:
        ax.axhline(0, color="black", lw=1.6, zorder=1.5)


panels = [
    # (series, ylim, yticks, ylabels, grid step)
    [(B3_UX_D1, B3_UX_D5, B3_UX_D10, B3_UX_AN), (-0.1, 0.1), [-0.1, 0, 0.1], ["-0.1", "0.0", "0.1"], 0.02],
    [(B4_UX_D1, B4_UX_D5, B4_UX_D10, B4_UX_AN), (-0.1, 0.1), [-0.1, 0, 0.1], ["-0.1", "0.0", "0.1"], 0.02],
    [(B3_UY_D1, B3_UY_D5, B3_UY_D10, B3_UY_AN), (0, 0.035), [0], ["0.00"], 0.005],
    [(B4_UY_D1, B4_UY_D5, B4_UY_D10, B4_UY_AN), (0, 0.01), [0, 0.01], ["0.00", "0.01"], 0.002],
    [(B3_VX_D1, B3_VX_D5, B3_VX_D10, B3_VX_AN), (-0.4, 0.4), [-0.4, 0, 0.4], ["-0.4", "0.0", "0.4"], 0.08],
    [(B4_VX_D1, B4_VX_D5, B4_VX_D10, B4_VX_AN), (-0.3, 0.3), [-0.3, 0, 0.3], ["-0.3", "0.0", "0.3"], 0.06],
    [(B3_VY_D1, B3_VY_D5, B3_VY_D10, B3_VY_AN), (-0.1, 0.1), [-0.1, 0, 0.1], ["-0.1", "0.0", "0.1"], 0.02],
    [(B4_VY_D1, B4_VY_D5, B4_VY_D10, B4_VY_AN), (-0.1, 0.1), [-0.1, 0, 0.1], ["-0.1", "0.0", "0.1"], 0.02],
]

for i, (series, ylim, yt, yl, step) in enumerate(panels):
    r, c = divmod(i, 2)
    ax = px_axes(col_x[c][0], col_x[c][1], row_y[r][0], row_y[r][1])
    d1, d5, d10, an = series
    if r < 3:
        lw_g, lw_r, lw_k, dash_r = 3.0, 2.4, 2.2, (0, (3.5, 1.5))
    else:
        lw_g, lw_r, lw_k, dash_r = 2.0, 1.0, 2.5, (0, (6, 3))
    curve(ax, d5, GREEN, lw_g, "-", 3)
    curve(ax, d10, RED, lw_r, dash_r, 4)
    curve(ax, d1, NAVY, 4.2, DOTS, 5, cap="round")
    curve(ax, an, "black", lw_k, "-", 6)
    setup(ax, ylim, yt, yl, step, zero_line=(r != 1))

# ---------------------------------------------------------------- titles and labels
for c, title in enumerate(BLOCK_TITLES):
    xc = (col_x[c][0] + col_x[c][1]) / 2
    fig.text(xc / W, 1 - 18 / H, title, ha="center", va="center",
             family=["Liberation Serif", "DejaVu Serif"], fontweight="bold", fontsize=18.7)

box = dict(boxstyle="square,pad=0.25", facecolor="#d6d6d6", edgecolor="#8c8c8c", lw=1.0)
shadow = [pe.SimplePatchShadow(offset=(2, -2), shadow_rgbFace="#6e6e6e", alpha=0.7), pe.Normal()]

label_pos = [(106, 80), (119, 311), (130, 488), (140, 701)]
for (x, y), txt in zip(label_pos, ROW_LABELS):
    t = fig.text(x / W, 1 - y / H, txt, ha="center", va="center", fontsize=10.8,
                 fontweight="bold", color="#262626", linespacing=1.1, bbox=box)
    t.get_bbox_patch().set_path_effects(shadow)

for y in [224, 431, 639, 843]:
    t = fig.text(1168 / W, 1 - y / H, "Time;\nt [s]", ha="center", va="center", fontsize=10.5,
                 fontweight="bold", color="#262626", linespacing=1.1, bbox=box)
    t.get_bbox_patch().set_path_effects(shadow)

# ---------------------------------------------------------------- legend
handles = [
    Line2D([], [], color=NAVY, lw=4.2, linestyle=DOTS, dash_capstyle="round"),
    Line2D([], [], color=GREEN, lw=3.0),
    Line2D([], [], color=RED, lw=2.4, linestyle=(0, (3.5, 1.5))),
    Line2D([], [], color="#4d4d4d", lw=1.2),
]
leg = fig.legend(handles, LEGEND_LABELS, loc="upper left",
                 bbox_to_anchor=(390 / W, 1 - 262 / H, 294 / W, 0.0), mode="expand",
                 fontsize=9, frameon=True, fancybox=False, framealpha=1,
                 edgecolor="#a0a0a0", borderpad=0.35, labelspacing=0.3,
                 handlelength=5.9, handletextpad=0.4, borderaxespad=0,
                 handler_map={h: HandlerLine2D(xpad=3.5) for h in handles})
for txt in leg.get_texts():
    txt.set_color("#333333")
leg.get_frame().set_linewidth(1.0)

fig.savefig("out.png", dpi=100)
